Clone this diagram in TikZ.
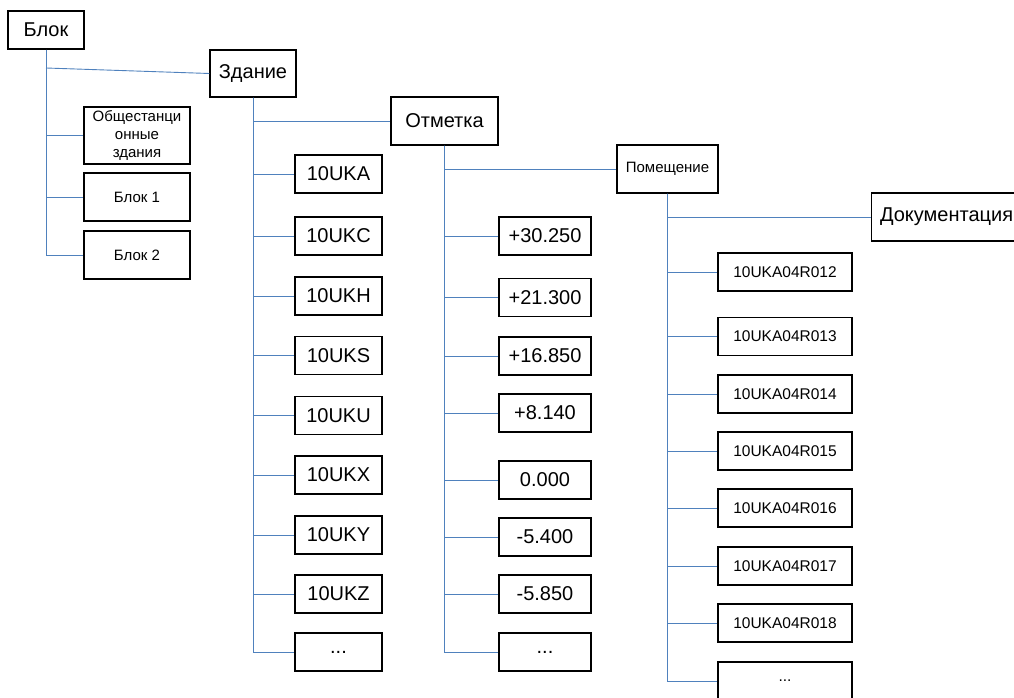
\documentclass[tikz,border=0pt]{standalone}
\usepackage{fontspec}
\setmainfont{Liberation Sans}
\definecolor{linkblue}{RGB}{79,129,189}
\newcommand\moredots{...}
\begin{document}
\begin{tikzpicture}[x=1pt, y=-1pt,
  box/.style={draw, line width=1.1pt, inner sep=0pt, minimum height=38pt},
  big/.style={font=\fontsize{20}{24}\selectfont},
  small/.style={font=\fontsize{15}{18}\selectfont},
  room/.style={font=\fontsize{15.5}{18}\selectfont},
  link/.style={draw=linkblue, line width=0.9pt}]
\clip (0,0) rectangle (1014,698);
%
\path (46,30)    node[box, big, minimum width=76pt] (blk) {Блок};
\path (253,73.5) node[box, big, minimum width=86pt, minimum height=47pt] (zd) {Здание};
\path (444.5,121) node[box, big, minimum width=107pt, minimum height=48pt] (otm) {Отметка};
\path (667.5,169) node[box, small, minimum width=101pt, minimum height=48pt] (pom) {Помещение};
\path (871,217)  node[box, big, anchor=west, minimum width=150pt, minimum height=48pt] (doc) {Документация};
%
\path (137,135.5) node[box, small, minimum width=106pt, minimum height=57pt, align=center] (ob) {Общестанци\\онные\\здания};
\path (137,197)  node[box, small, minimum width=106pt, minimum height=48pt] (b1) {Блок 1};
\path (137,255)  node[box, small, minimum width=106pt, minimum height=48pt] (b2) {Блок 2};
%
\coordinate (j0) at (46,68);
\draw[link] (blk.south) |- (b2.west);
\draw[link] (j0) -- (zd.west);
\draw[link] (blk.south) |- (ob.west);
\draw[link] (blk.south) |- (b1.west);
%
\draw[link] (zd.south) |- (otm.west);
\foreach \y/\t [count=\i] in {174/10UKA, 236/10UKC, 296/10UKH, 355.5/10UKS, 415.5/10UKU,
                              475/10UKX, 535/10UKY, 594/10UKZ, 652/\moredots}
{
  \path (338.5,\y) node[box, big, minimum width=87pt] (u\i) {\t};
  \draw[link] (zd.south) |- (u\i.west);
}
%
\draw[link] (otm.south) |- (pom.west);
\foreach \y/\t [count=\i] in {236/+30.250, 297.5/+21.300, 356/+16.850, 413/+8.140,
                              480/0.000, 537/-5.400, 594/-5.850, 652/\moredots}
{
  \path (545,\y) node[box, big, minimum width=92pt] (m\i) {\t};
  \draw[link] (otm.south) |- (m\i.west);
}
%
\draw[link] (pom.south) |- (doc.west);
\foreach \y/\t [count=\i] in {272/10UKA04R012, 336.5/10UKA04R013, 394/10UKA04R014, 451/10UKA04R015,
                              508/10UKA04R016, 566/10UKA04R017, 623/10UKA04R018, 681/\moredots}
{
  \path (785,\y) node[box, room, minimum width=134pt] (r\i) {\t};
  \draw[link] (pom.south) |- (r\i.west);
}
\end{tikzpicture}
\end{document}
